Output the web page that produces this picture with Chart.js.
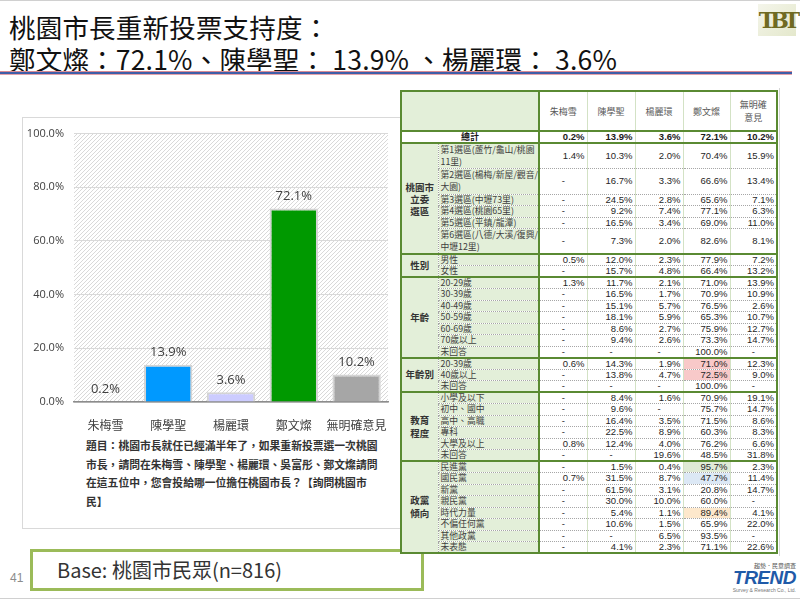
<!DOCTYPE html>
<html>
<head>
<meta charset="utf-8">
<script src="https://cdn.jsdelivr.net/npm/chart.js@4.4.1/dist/chart.umd.min.js"></script>
<style>
  html, body { margin: 0; padding: 0; }
  body {
    width: 800px; height: 601px; position: relative; overflow: hidden; background: #fff;
    font-family: "Noto Sans CJK TC", "Noto Sans", sans-serif; color: #262626;
  }
  .frameTop { position: absolute; left: 0; top: 0; width: 800px; height: 1px; background: #d0d0d0; }
  .frameBot { position: absolute; left: 0; top: 598px; width: 800px; height: 1px; background: #d0d0d0; }
  #title {
    position: absolute; left: 9px; top: 11px; font-size: 26.5px; line-height: 32px;
    font-weight: 400; color: #111; white-space: nowrap; letter-spacing: 0.2px;
  }
  .rule { position: absolute; left: 0; width: 792px; }
  #tbt {
    position: absolute; left: 758px; top: 4px; width: 38px; height: 32px;
    background: linear-gradient(135deg, #f4f5ea, #e4e8cc);
    font-family: "DejaVu Serif", serif; font-weight: bold; font-size: 22px; letter-spacing: -5px;
    color: #6f6a22; line-height: 32px; text-align: center;
  }
  #chartBox {
    position: absolute; left: 22px; top: 117px; width: 400px; height: 410px;
    border: 1px solid #d9d9d9; background: #fff;
  }
  #barChart { position: absolute; left: 22px; top: 117px; }
  #question {
    position: absolute; left: 86px; top: 436px; width: 300px;
    font-size: 10.8px; line-height: 18.5px; font-weight: bold; color: #333;
  }
  #base {
    position: absolute; left: 30px; top: 549px; width: 364px; height: 36px;
    border: 3px solid #9bbb59; background: #fff;
    font-size: 20px; line-height: 36px; color: #333; padding-left: 24px;
  }
  #page { position: absolute; left: 10px; top: 571px; font-size: 12px; color: #8c8c8c; font-family: "Liberation Sans", sans-serif; }
  #trend { position: absolute; left: 732px; top: 562px; width: 64px; text-align: right; }
  #trend .a { font-size: 6px; color: #555; line-height: 7px; }
  #trend .b { font-family: "Liberation Sans", sans-serif; font-weight: bold; font-style: italic;
              font-size: 19px; color: #1f5aa8; line-height: 18px; letter-spacing: -0.5px; }
  #trend .c { font-size: 5px; color: #777; line-height: 6px; font-family: "Liberation Sans", sans-serif; }
  #tbl {
    position: absolute; left: 400px; top: 90px; width: 376px;
    border-collapse: collapse; table-layout: fixed; border: 2px solid #5a8a32; background: #fff;
  }
  #tbl td {
    padding: 0 2px; font-size: 9px; line-height: 10px; overflow: hidden; white-space: pre;
    border-bottom: 1px dotted #a6a6a6; border-left: 1px solid #d3e2c5; color: #404040;
  }
  #tbl tr { height: 11.5px; }
  #tbl tr.two { height: 25.5px; }
  #tbl tr.two td { line-height: 12px; }
  #tbl tr.head { height: 40px; }
  #tbl tr.head td { text-align: center; vertical-align: middle; color: #595959; border-bottom: 2px solid #5a8a32; line-height: 13px; }
  #tbl tr.first td { border-top: 2px solid #5a8a32; }
  #tbl td.grp { background: #e3efd9; font-weight: bold; text-align: center; vertical-align: middle;
                font-size: 9.5px; line-height: 13px; color: #333; border-bottom: 2px solid #5a8a32; }
  #tbl td.sub { background: #e3efd9; border-right: 2px solid #5a8a32; border-left: 1px dotted #a6a6a6; font-size: 8.8px; }
  #tbl td.num { text-align: right; font-family: "Liberation Sans", sans-serif; font-size: 9.5px; color: #262626; vertical-align: middle; }
  #tbl td.dash { text-align: center; }
  #tbl tr.total td { font-weight: bold; color: #1a1a1a; border-bottom: 2px solid #5a8a32; }
  #tbl tr.total td.lab { text-align: center; border-right: 2px solid #5a8a32; }
  #edge { position: absolute; left: 779px; top: 88px; width: 1px; height: 468px; background: #d6d6d6; }
</style>
</head>
<body>
<div class="frameTop"></div>
<div class="frameBot"></div>

<div id="title">桃園市長重新投票支持度：<br>鄭文燦：72.1%、陳學聖： 13.9% 、楊麗環： 3.6%</div>
<div class="rule" style="top:71px;height:1px;background:#d98a93;"></div>
<div class="rule" style="top:72px;height:2px;background:#3e5ea8;"></div>
<div class="rule" style="top:74px;height:1px;background:#e3a2aa;"></div>
<div id="tbt">TBT</div>

<div id="chartBox"></div>
<canvas id="barChart" width="376" height="318"></canvas>
<div id="question">題目：桃園市長就任已經滿半年了，如果重新投票選一次桃園<br>市長，請問在朱梅雪、陳學聖、楊麗環、吳富彤、鄭文燦請問<br>在這五位中，您會投給哪一位擔任桃園市長？【詢問桃園市<br>民】</div>

<div id="base">Base: 桃園市民眾(n=816)</div>
<div id="page">41</div>
<div id="trend"><div class="a">趨勢．民意調查</div><div class="b">TREND</div><div class="c">Survey &amp; Research Co., Ltd.</div></div>

<div id="edge"></div>
<table id="tbl"></table>

<script>
// 圖表資料
const candidates = ['朱梅雪', '陳學聖', '楊麗環', '鄭文燦', '無明確意見'];
const support = [0.2, 13.9, 3.6, 72.1, 10.2];
const yTicks = [0, 20, 40, 60, 80, 100];
const barColors = ['#bfbfbf', '#0099ff', '#ccccff', '#009900', '#a6a6a6'];

// 交叉表資料 (null = "-")
const districtRows = [
  ['第1選區(蘆竹/龜山/桃園\n11里)', 1.4, 10.3, 2.0, 70.4, 15.9],
  ['第2選區(楊梅/新屋/觀音/\n大園)', null, 16.7, 3.3, 66.6, 13.4],
  ['第3選區(中壢73里)', null, 24.5, 2.8, 65.6, 7.1],
  ['第4選區(桃園65里)', null, 9.2, 7.4, 77.1, 6.3],
  ['第5選區(平鎮/龍潭)', null, 16.5, 3.4, 69.0, 11.0],
  ['第6選區(八德/大溪/復興/\n中壢12里)', null, 7.3, 2.0, 82.6, 8.1]
];
const genderRows = [
  ['男性', 0.5, 12.0, 2.3, 77.9, 7.2],
  ['女性', null, 15.7, 4.8, 66.4, 13.2]
];
const ageRows = [
  ['20-29歲', 1.3, 11.7, 2.1, 71.0, 13.9],
  ['30-39歲', null, 16.5, 1.7, 70.9, 10.9],
  ['40-49歲', null, 15.1, 5.7, 76.5, 2.6],
  ['50-59歲', null, 18.1, 5.9, 65.3, 10.7],
  ['60-69歲', null, 8.6, 2.7, 75.9, 12.7],
  ['70歲以上', null, 9.4, 2.6, 73.3, 14.7],
  ['未回答', null, null, null, 100.0, null]
];
const ageGroupRows = [
  ['20-39歲', 0.6, 14.3, 1.9, 71.0, 12.3],
  ['40歲以上', null, 13.8, 4.7, 72.5, 9.0],
  ['未回答', null, null, null, 100.0, null]
];
const eduRows = [
  ['小學及以下', null, 8.4, 1.6, 70.9, 19.1],
  ['初中、國中', null, 9.6, null, 75.7, 14.7],
  ['高中、高職', null, 16.4, 3.5, 71.5, 8.6],
  ['專科', null, 22.5, 8.9, 60.3, 8.3],
  ['大學及以上', 0.8, 12.4, 4.0, 76.2, 6.6],
  ['未回答', null, null, 19.6, 48.5, 31.8]
];
const partyRows = [
  ['民進黨', null, 1.5, 0.4, 95.7, 2.3],
  ['國民黨', 0.7, 31.5, 8.7, 47.7, 11.4],
  ['新黨', null, 61.5, 3.1, 20.8, 14.7],
  ['親民黨', null, 30.0, 10.0, 60.0, null],
  ['時代力量', null, 5.4, 1.1, 89.4, 4.1],
  ['不偏任何黨', null, 10.6, 1.5, 65.9, 22.0],
  ['其他政黨', null, null, 6.5, 93.5, null],
  ['未表態', null, 4.1, 2.3, 71.1, 22.6]
];

const groups = [
  { name: '桃園市\n立委\n選區', rows: districtRows },
  { name: '性別', rows: genderRows },
  { name: '年齡', rows: ageRows },
  { name: '年齡別', rows: ageGroupRows },
  { name: '教育\n程度', rows: eduRows },
  { name: '政黨\n傾向', rows: partyRows }
];

// 標色格子: "組-列-欄"
const highlight = {
  '3-0-3': '#f8c9c9', '3-1-3': '#f8c9c9',
  '5-0-3': '#dfead6', '5-1-3': '#dce8f5', '5-4-3': '#fde8cc'
};

function pct(v) { return v === null ? '-' : v.toFixed(1) + '%'; }

// 建表
const tbl = document.getElementById('tbl');
let html = '<colgroup><col style="width:37px"><col style="width:101px">' +
  '<col style="width:48px"><col style="width:48px"><col style="width:48px"><col style="width:47px"><col style="width:47px"></colgroup>';
html += '<tr class="head"><td colspan="2" style="background:#e3efd9;border-right:2px solid #5a8a32"></td>';
candidates.forEach(function(c) {
  const t = c.length > 3 ? c.slice(0, 3) + '\n' + c.slice(3) : c;
  html += '<td>' + t + '</td>';
});
html += '</tr>';
html += '<tr class="total"><td colspan="2" class="lab">總計</td>';
support.forEach(function(v) { html += '<td class="num">' + pct(v) + '</td>'; });
html += '</tr>';
groups.forEach(function(g, gi) {
  g.rows.forEach(function(r, ri) {
    const two = r[0].indexOf('\n') >= 0;
    html += '<tr class="' + (ri === 0 ? 'first ' : '') + (two ? 'two' : '') + '">';
    if (ri === 0) html += '<td class="grp" rowspan="' + g.rows.length + '">' + g.name + '</td>';
    html += '<td class="sub">' + r[0] + '</td>';
    for (let k = 1; k < r.length; k++) {
      const bg = highlight[gi + '-' + ri + '-' + (k - 1)];
      html += '<td class="num' + (r[k] === null ? ' dash' : '') + '"' + (bg ? ' style="background:' + bg + '"' : '') + '>' + pct(r[k]) + '</td>';
    }
    html += '</tr>';
  });
});
tbl.innerHTML = html;

// 斜線底紋
var tile = document.createElement('canvas');
tile.width = 4; tile.height = 4;
var tg = tile.getContext('2d');
tg.strokeStyle = '#d9d9d9';
tg.lineWidth = 1;
tg.beginPath();
tg.moveTo(0, 4); tg.lineTo(4, 0);
tg.moveTo(-1, 1); tg.lineTo(1, -1);
tg.moveTo(3, 5); tg.lineTo(5, 3);
tg.stroke();

const hatchBg = {
  id: 'hatchBg',
  beforeDraw: function(chart) {
    const a = chart.chartArea, ctx = chart.ctx;
    ctx.save();
    ctx.fillStyle = ctx.createPattern(tile, 'repeat');
    ctx.fillRect(a.left, a.top, a.right - a.left, a.bottom - a.top);
    ctx.restore();
  }
};

const valueLabels = {
  id: 'valueLabels',
  afterDatasetsDraw: function(chart) {
    const ctx = chart.ctx;
    ctx.save();
    ctx.font = '13px "Open Sans", "Noto Sans", sans-serif';
    ctx.fillStyle = '#404040';
    ctx.textAlign = 'center';
    ctx.textBaseline = 'bottom';
    chart.getDatasetMeta(0).data.forEach(function(bar, i) {
      ctx.fillText(support[i].toFixed(1) + '%', bar.x, bar.y - 6);
    });
    ctx.restore();
  }
};

var myChart = new Chart(document.getElementById('barChart'), {
  type: 'bar',
  data: {
    labels: candidates,
    datasets: [{
      data: support,
      backgroundColor: barColors,
      borderColor: '#d4d4d4',
      borderWidth: 2,
      barPercentage: 0.77,
      categoryPercentage: 1
    }]
  },
  options: {
    responsive: false,
    animation: false,
    layout: { padding: { top: 13, right: 10, bottom: 0, left: 0 } },
    plugins: { legend: { display: false }, tooltip: { enabled: false } },
    scales: {
      x: {
        grid: { display: false },
        border: { display: true, color: '#8c8c8c', width: 1.5 },
        ticks: {
          color: '#404040', padding: 8, maxRotation: 0, minRotation: 0, autoSkip: false,
          font: { size: 12, family: '"Noto Sans CJK TC", sans-serif' }
        },
        afterFit: function(s) { s.height = 33; }
      },
      y: {
        min: 0,
        max: 100,
        afterBuildTicks: function(s) { s.ticks = yTicks.map(function(v) { return { value: v }; }); },
        grid: { color: '#d9d9d9', drawTicks: false },
        border: { display: false },
        ticks: {
          color: '#404040', padding: 10,
          font: { size: 11, family: '"Open Sans", "Noto Sans", sans-serif' },
          callback: function(v) { return v.toFixed(1) + '%'; }
        },
        afterFit: function(s) { s.width = 52; }
      }
    }
  },
  plugins: [hatchBg, valueLabels]
});
</script>
</body>
</html>
